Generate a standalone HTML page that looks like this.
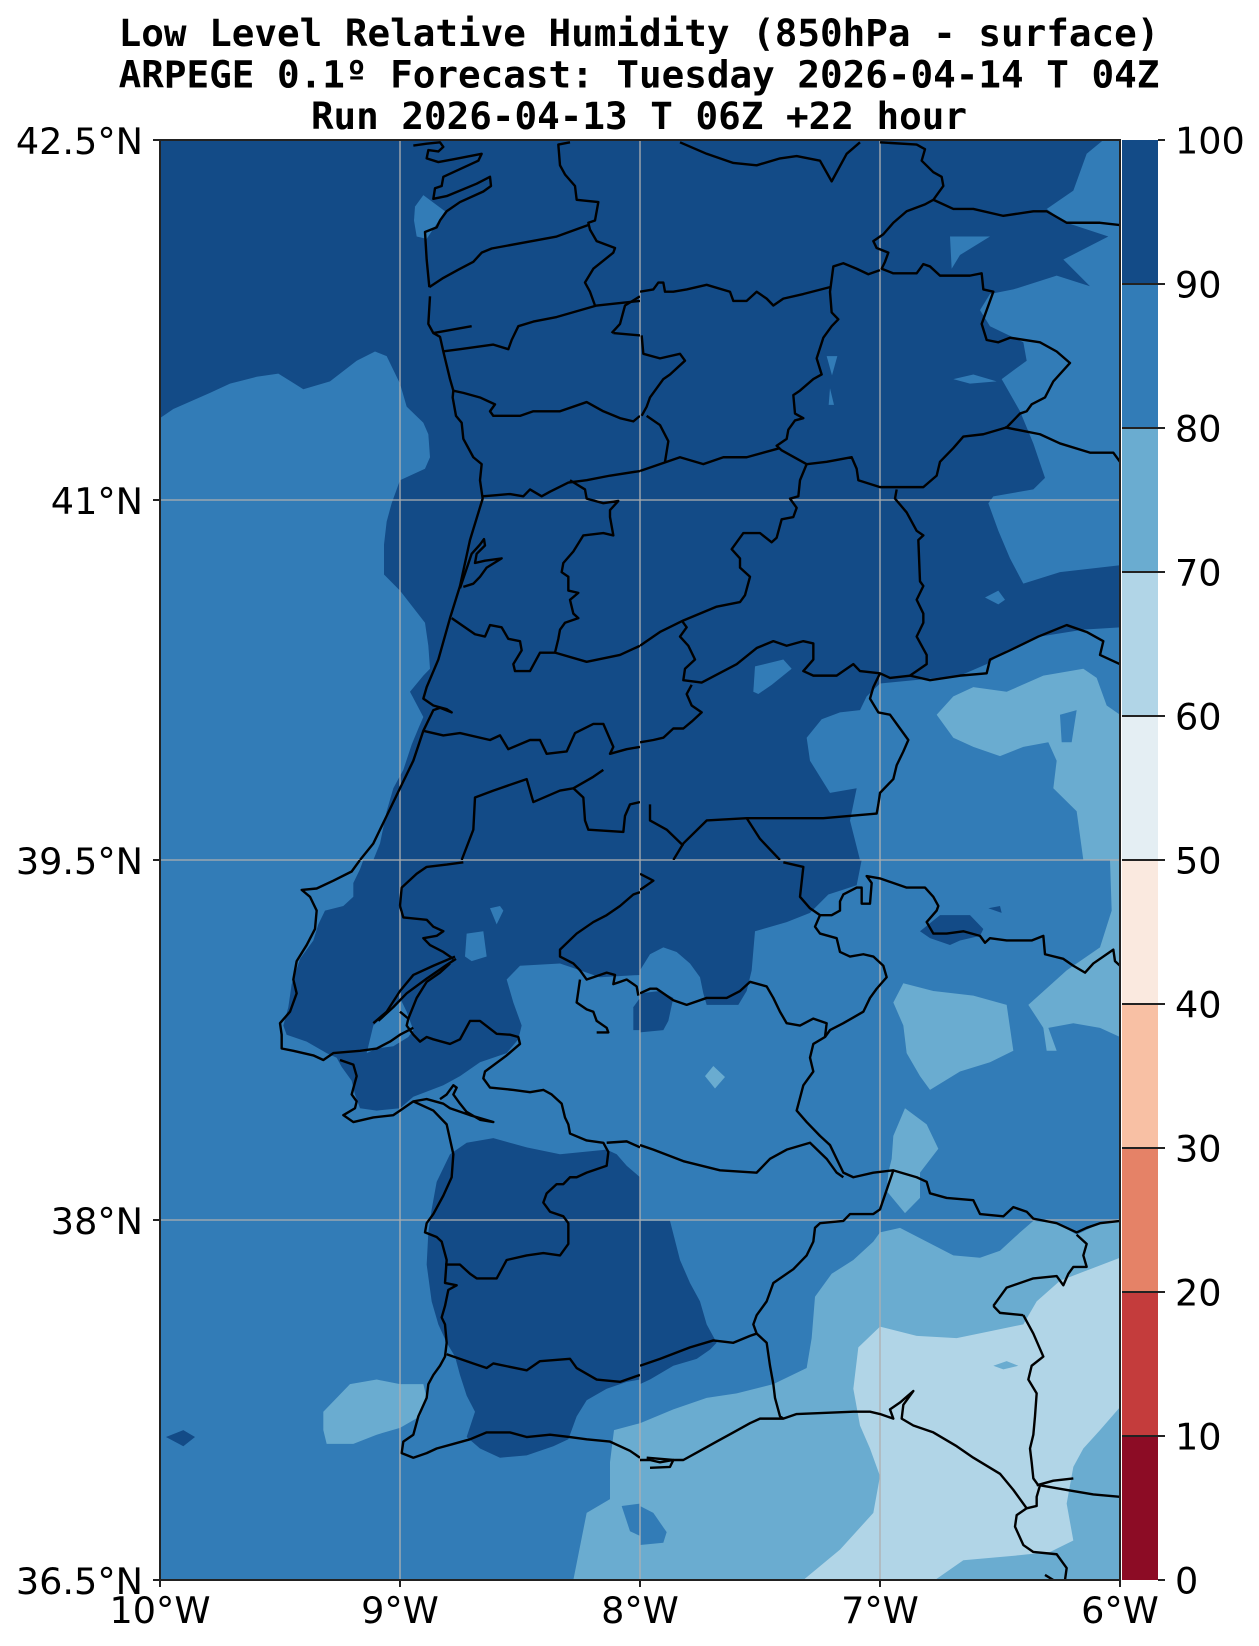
<!DOCTYPE html>
<html><head><meta charset="utf-8"><style>
html,body{margin:0;padding:0;background:#fff;}
svg{display:block;}
.t{font-family:"DejaVu Sans Mono","Liberation Mono",monospace;font-weight:bold;font-size:37.6px;fill:#000;}
.k{font-family:"DejaVu Sans","Liberation Sans",sans-serif;font-size:36.6px;fill:#000;}
.ln polyline{fill:none;stroke:#000;stroke-width:2.4;stroke-linejoin:round;vector-effect:non-scaling-stroke;}
</style></head><body>
<svg width="1259" height="1646" viewBox="0 0 1259 1646" xmlns="http://www.w3.org/2000/svg">
<defs><clipPath id="cq" clipPathUnits="userSpaceOnUse"><rect x="0" y="0" width="1440" height="1566"/></clipPath></defs>
<rect width="1259" height="1646" fill="#fff"/>

<text class="t" x="639" y="46" text-anchor="middle">Low Level Relative Humidity (850hPa - surface)</text>
<text class="t" x="639" y="87.5" text-anchor="middle">ARPEGE 0.1º Forecast: Tuesday 2026-04-14 T 04Z</text>
<text class="t" x="639" y="129" text-anchor="middle">Run 2026-04-13 T 06Z +22 hour</text>

<!-- Q1 fills -->
<g transform="translate(160,140) scale(0.333333,0.459770)" clip-path="url(#cq)">
<rect x="0" y="0" width="1440" height="1566" fill="#134b87"/>
<polygon fill="#327cb7" points="0,605 40,585 150,550 210,530 290,515 355,508 430,542 510,525 590,480 645,460 680,470 720,530 740,580 790,615 805,640 810,690 795,715 720,740 695,790 680,830 672,880 672,945 720,980 795,1050 805,1100 810,1150 790,1165 750,1200 790,1255 775,1280 755,1315 730,1370 700,1410 680,1460 660,1530 640,1566 0,1566"/>
<polygon fill="#327cb7" points="765,145 790,120 855,155 800,215 770,210 762,175"/>
</g>
<!-- Q2 fills -->
<g transform="translate(640,140) scale(0.333333,0.459770)" clip-path="url(#cq)">
<rect x="0" y="0" width="1440" height="1566" fill="#134b87"/>
<polygon fill="#327cb7" points="1440,0 1390,0 1340,30 1300,110 1220,150 1280,180 1405,210 1270,260 1350,318 1250,295 1120,325 1050,335 1020,370 1050,405 1150,440 1160,480 1085,520 1140,590 1180,660 1215,735 1180,760 1060,775 1045,790 1075,850 1110,910 1150,965 1260,940 1440,925"/>
<polygon fill="#327cb7" points="1440,1060 1330,1065 1200,1080 1100,1110 1040,1140 960,1165 820,1175 720,1182 680,1210 660,1240 600,1245 545,1260 500,1300 510,1350 570,1420 650,1410 630,1480 660,1566 1440,1566"/>
<polygon fill="#6aacd0" points="890,1250 940,1210 1000,1190 1100,1200 1210,1165 1330,1150 1370,1170 1400,1230 1440,1250 1440,1566 1330,1566 1310,1460 1240,1410 1250,1350 1225,1310 1150,1320 1080,1340 1000,1320 940,1300"/>
<polygon fill="#327cb7" points="1260,1250 1310,1240 1295,1310 1265,1310"/>
<polygon fill="#327cb7" points="345,1145 430,1130 455,1150 395,1185 355,1205 340,1200"/>
<polygon fill="#327cb7" points="1035,995 1075,980 1095,1000 1075,1010"/>
<polygon fill="#327cb7" points="930,210 1050,210 960,250 935,280"/>
<polygon fill="#327cb7" points="940,520 1000,510 1070,525 990,530"/>
<polygon fill="#327cb7" points="560,470 592,470 576,512"/>
<polygon fill="#327cb7" points="570,540 582,576 566,576"/>
</g>
<!-- Q3 fills -->
<g transform="translate(160,860) scale(0.333333,0.459770)" clip-path="url(#cq)">
<rect x="0" y="0" width="1440" height="1566" fill="#327cb7"/>
<polygon fill="#134b87" points="610,0 1440,0 1440,250 1320,255 1240,235 1200,225 1080,230 1040,260 1060,310 1085,360 1075,390 1040,420 960,440 900,470 850,490 760,515 720,540 650,545 600,540 585,510 575,480 545,450 530,430 500,420 440,395 380,380 370,360 385,320 395,270 420,215 460,175 475,140 495,110 550,100 580,80 580,50 600,20"/>
<polygon fill="#327cb7" points="640,360 700,320 720,300 740,330 760,370 745,385 700,405 650,410 620,420"/>
<polygon fill="#327cb7" points="920,160 970,155 980,210 935,220 915,210"/>
<polygon fill="#327cb7" points="990,105 1020,100 1030,110 1010,140"/>
<polygon fill="#134b87" points="1420,320 1440,300 1440,370 1420,370"/>
<polygon fill="#134b87" points="830,700 870,640 920,615 1000,605 1100,625 1200,640 1340,630 1370,640 1400,665 1440,690 1440,1130 1400,1135 1340,1150 1280,1175 1250,1210 1225,1260 1180,1275 1100,1295 1020,1300 960,1280 920,1255 945,1200 920,1165 900,1120 885,1080 860,1050 835,1010 815,960 800,880 805,810 815,760"/>
<polygon fill="#134b87" points="18,1255 70,1240 105,1255 70,1275"/>
<polygon fill="#6aacd0" points="490,1200 570,1140 650,1130 720,1140 790,1140 800,1170 780,1210 720,1235 650,1250 580,1270 500,1270 490,1240"/>
<polygon fill="#6aacd0" points="1362,1240 1440,1225 1440,1566 1240,1566 1280,1420 1350,1390 1350,1310"/>
<polygon fill="#327cb7" points="1385,1405 1440,1400 1440,1470 1410,1460"/>
</g>
<!-- Q4 fills -->
<g transform="translate(640,860) scale(0.333333,0.459770)" clip-path="url(#cq)">
<rect x="0" y="0" width="1440" height="1566" fill="#327cb7"/>
<polygon fill="#134b87" points="0,0 665,0 650,55 565,75 510,115 440,135 345,155 335,240 320,285 295,315 200,315 190,290 180,255 150,225 110,200 70,190 30,205 0,240"/>
<polygon fill="#134b87" points="0,290 60,285 100,300 85,350 70,370 0,375"/>
<polygon fill="#134b87" points="0,785 90,785 120,870 150,920 180,960 200,1010 230,1050 210,1065 170,1085 100,1100 30,1130 0,1140"/>
<polygon fill="#134b87" points="840,155 900,120 990,120 1030,150 1020,165 960,175 930,185 870,170"/>
<polygon fill="#134b87" points="1045,105 1080,100 1085,115"/>
<polygon fill="#6aacd0" points="760,310 790,268 880,285 1000,295 1100,315 1120,415 1050,440 960,460 870,500 840,470 800,420 790,360"/>
<polygon fill="#6aacd0" points="1165,315 1280,240 1380,190 1415,110 1410,0 1440,0 1440,385 1380,365 1300,355 1225,365 1250,415 1220,415 1210,365"/>
<polygon fill="#6aacd0" points="760,600 795,540 860,575 895,628 840,680 840,735 795,768 740,720 745,680 755,650"/>
<polygon fill="#6aacd0" points="195,470 220,448 255,472 225,497"/>
<polygon fill="#6aacd0" points="0,1225 100,1195 200,1170 290,1160 400,1140 500,1105 515,1040 525,950 575,900 640,870 700,830 720,810 780,800 860,830 940,860 1020,865 1080,850 1140,810 1180,785 1250,790 1310,815 1380,790 1440,780 1440,1566 0,1566"/>
<polygon fill="#b1d5e7" points="640,1150 655,1060 720,1015 830,1035 950,1040 1050,1025 1150,1010 1190,960 1260,915 1350,890 1440,865 1440,1190 1380,1240 1330,1280 1300,1320 1280,1400 1300,1480 1230,1505 1140,1512 970,1523 885,1566 490,1566 600,1500 700,1420 720,1340 690,1280 660,1230"/>
<polygon fill="#6aacd0" points="1060,1100 1100,1090 1135,1100 1090,1108"/>
<polygon fill="#327cb7" points="0,1405 40,1420 80,1462 70,1485 0,1490"/>
</g>

<!-- gridlines -->
<g stroke="#b0b0b0" stroke-width="1.3">
<line x1="400" y1="140" x2="400" y2="1580"/>
<line x1="640" y1="140" x2="640" y2="1580"/>
<line x1="880" y1="140" x2="880" y2="1580"/>
<line x1="160" y1="500" x2="1120" y2="500"/>
<line x1="160" y1="860" x2="1120" y2="860"/>
<line x1="160" y1="1220" x2="1120" y2="1220"/>
</g>

<!-- Q1 lines -->
<g class="ln" transform="translate(160,140) scale(0.333333,0.459770)" clip-path="url(#cq)">
<polyline points="760,12 800,8 840,5 850,15 835,25 805,22 800,40 835,48 880,42 965,30 955,45 880,70 850,80 845,100 825,105 820,128 860,122 950,95 990,80 993,100 970,112 900,135 860,155 840,175 830,190 795,200 800,260 808,320"/>
<polyline points="808,320 850,300 895,282 940,265 965,245 995,236 1040,230 1190,210 1285,185"/>
<polyline points="810,340 805,400 820,420 840,428 850,460 870,520 880,545 878,560 888,600 905,615 910,650 940,690 965,705 960,740 968,780 930,870 900,970 870,1040 835,1130 800,1190 790,1215 820,1230 860,1238 875,1245 840,1235 820,1240 790,1285 760,1350 720,1410 680,1470 640,1530 600,1566"/>
<polyline points="820,420 935,405"/>
<polyline points="848,460 900,455 1000,445 1045,455 1055,435 1075,405 1120,395 1190,385 1310,360 1440,350"/>
<polyline points="1305,360 1290,330 1275,310 1300,280 1360,245 1365,235 1310,220 1290,195 1285,180 1305,175 1315,135 1250,130 1245,100 1215,75 1200,55 1195,10 1230,5"/>
<polyline points="1355,420 1380,400 1395,360 1440,340"/>
<polyline points="1360,420 1440,425"/>
<polyline points="878,545 910,550 960,560 1005,575 990,590 1000,600 1080,600 1120,590 1200,590 1280,570 1330,590 1380,605 1420,612 1440,600"/>
<polyline points="968,775 1000,773 1050,770 1090,775 1110,760 1145,775 1170,765 1225,745 1280,740 1350,730 1440,720"/>
<polyline points="1230,740 1275,760 1280,780 1330,790 1375,785 1350,805 1350,820 1360,860 1330,855 1270,860 1240,895 1210,920 1205,940 1225,950 1225,980 1255,985 1230,1000 1240,1030 1255,1040 1215,1050 1200,1065 1195,1085 1185,1115 1140,1115 1110,1155 1065,1155 1060,1140 1085,1110 1080,1090 1045,1085 1025,1060 990,1055 975,1080 945,1075 875,1040"/>
<polyline points="1185,1115 1280,1135 1380,1120 1440,1100"/>
<polyline points="900,975 935,900 960,880 972,868 975,882 950,900 945,920 975,915 1025,910 980,930 960,950 940,965 910,972"/>
<polyline points="790,1285 850,1295 900,1290 990,1305 1020,1295 1045,1325 1110,1305 1140,1305 1160,1335 1220,1330 1245,1290 1300,1270 1330,1270 1360,1320 1350,1335 1400,1325 1440,1320"/>
<polyline points="905,1566 940,1500 945,1430 1000,1415 1100,1390 1120,1440 1200,1415 1240,1410 1300,1385 1330,1370"/>
<polyline points="1240,1410 1270,1430 1275,1480 1285,1500 1390,1505 1395,1470 1410,1445 1440,1440"/>
</g>
<!-- Q2 lines -->
<g class="ln" transform="translate(640,140) scale(0.333333,0.459770)" clip-path="url(#cq)">
<polyline points="120,5 200,30 280,50 350,55 420,40 470,35 540,45 575,90 620,30 660,5"/>
<polyline points="720,5 830,10 855,20 845,45 880,70 905,80 910,100 880,130 855,140 800,155 760,180 730,205 700,220 710,235 745,245 735,265 725,280 760,290 830,290 850,270 870,275 900,295 990,295 1025,290 1030,325 1060,330 1040,370 1025,400 1040,435 1075,440 1110,430 1200,440 1250,460 1290,485 1240,525 1215,560 1175,575 1160,590 1140,595 1100,625 1030,640 970,645 940,670 900,700 890,730 850,755 720,755 655,740 650,715 635,690 560,700 500,705 425,675 410,665 440,650 445,630 465,610 490,605 465,595 460,555 480,545 520,520 545,510 530,475 550,430 575,405 595,390 575,375 570,330 580,275 610,268 650,280 685,292 720,283"/>
<polyline points="880,130 940,150 1000,150 1090,165 1180,155 1220,155 1280,180 1380,180 1440,185"/>
<polyline points="0,330 40,325 55,310 70,310 75,330 100,330 140,325 200,315 270,330 280,350 320,350 350,330 380,345 400,360 430,345 490,335 570,320"/>
<polyline points="5,425 10,465 60,475 120,465 135,480 90,510 70,520 45,545 30,560 20,580 5,600"/>
<polyline points="20,600 60,620 85,655 75,700"/>
<polyline points="0,720 60,705 120,690 190,705 250,690 320,690 420,670"/>
<polyline points="500,705 480,740 475,775 450,780 470,800 460,820 425,825 410,865 395,875 360,855 310,855 275,890 300,910 300,930 330,950 315,990 300,1005 230,1015 130,1045 60,1070 0,1100"/>
<polyline points="770,760 765,780 800,810 830,850 850,860 835,870 840,960 850,970 830,1000 850,1030 850,1050 830,1080 860,1120 860,1140 810,1165 870,1175 960,1165 1040,1160 1050,1130 1110,1110 1195,1080 1280,1055 1340,1070 1390,1090 1380,1120 1440,1140"/>
<polyline points="1095,625 1200,640 1260,660 1350,680 1420,680 1440,700"/>
<polyline points="125,1045 140,1060 120,1080 145,1100 165,1130 135,1150 130,1175 185,1180 290,1140 350,1105 400,1090 440,1100 490,1090 520,1095 520,1130 490,1155 520,1165 590,1165 640,1140 660,1155 720,1160 750,1170 810,1165"/>
<polyline points="155,1185 140,1205 155,1230 185,1245 155,1265 130,1280 100,1280 70,1300 40,1305 0,1310"/>
<polyline points="720,1160 700,1190 690,1215 715,1245 750,1250 780,1280 805,1305 790,1330 770,1360 760,1390 720,1420 715,1445 710,1465 550,1475 320,1475 200,1480 130,1530 100,1566"/>
<polyline points="30,1445 30,1480 80,1500 130,1535"/>
<polyline points="320,1475 360,1520 420,1566"/>
</g>
<!-- Q3 lines -->
<g class="ln" transform="translate(160,860) scale(0.333333,0.459770)" clip-path="url(#cq)">
<polyline points="600,0 575,25 520,45 470,62 425,65 450,80 470,110 465,150 440,185 410,220 400,260 410,290 390,330 360,355 365,380 365,410 400,415 460,425 490,435 520,420 600,415 650,410 690,395 720,380 760,365"/>
<polyline points="640,355 680,330 720,285 760,250 820,230 885,210"/>
<polyline points="655,350 700,320 740,290 800,258 860,228 888,215"/>
<polyline points="745,345 770,300 800,265 840,245 870,225"/>
<polyline points="540,435 580,445 590,470 575,510 590,525 585,540 550,555 580,570 640,560 700,555 720,545 760,525 800,520 850,530 870,540 930,555 1000,570 960,565 920,548 900,530 880,510 890,495 880,490 860,510 840,520"/>
<polyline points="760,525 820,545 860,575 880,640 875,690 850,730 820,770 800,790 795,810 830,820 845,830 860,870 855,920 890,925 865,935 855,970 845,995 855,1010 860,1050 855,1080 840,1100 820,1120 805,1140 800,1170 775,1210 760,1250 730,1265 725,1290 760,1300 800,1290 830,1280 880,1270 930,1260 980,1245 1050,1245 1100,1255 1170,1250 1230,1255 1280,1260 1350,1265 1410,1285 1440,1300"/>
<polyline points="860,1075 940,1095 980,1105 1000,1095 1100,1110 1140,1090 1230,1085 1250,1105 1310,1130 1380,1135 1440,1120"/>
<polyline points="855,880 900,880 930,900 950,910 1010,910 1040,870 1100,860 1150,855 1200,860 1225,835 1225,790 1210,775 1170,765 1150,745 1160,725 1190,705 1210,705 1230,690 1250,690 1280,680 1340,665 1345,635 1330,615 1280,610 1230,595 1225,575 1215,560 1205,530 1175,510 1150,500 1110,505 1060,500 990,495 970,475 975,460 1040,425 1080,400 1075,385 1050,380 1010,378 960,350 930,350 900,390 870,400 820,390 800,385 780,395 760,380 740,360 745,345 720,330"/>
<polyline points="1340,615 1400,612 1440,625"/>
<polyline points="720,100 730,125 800,130 820,145 850,155 830,165 790,170 810,185 850,200 880,215"/>
<polyline points="720,100 725,60 770,30 800,15 860,10 910,5"/>
<polyline points="1440,70 1420,75 1380,100 1340,120 1300,135 1250,160 1200,195 1200,210 1240,225 1260,240 1280,260 1300,255 1340,245 1365,250 1360,270 1380,265 1400,260 1430,275 1435,295"/>
<polyline points="1260,260 1255,285 1250,310 1280,325 1300,330 1310,350 1340,365 1345,375 1310,375"/>
</g>
<!-- Q4 lines -->
<g class="ln" transform="translate(640,860) scale(0.333333,0.459770)" clip-path="url(#cq)">
<polyline points="0,30 40,45 10,60 0,65"/>
<polyline points="430,5 490,15 480,80 510,105 540,120 575,120 600,110 600,90 610,75 650,60 665,60 665,95 690,95 695,50 680,35 720,40 800,60 855,60 880,80 895,100 890,110 860,135 880,160 920,160 970,155 1020,165 1035,180 1050,170 1100,175 1175,175 1210,165 1215,205 1270,215 1300,230 1335,245 1360,225 1420,195 1425,220 1440,230"/>
<polyline points="540,120 525,145 540,160 590,170 600,200 630,210 670,205 700,210 730,230 740,255 710,280 690,300 670,330 610,355 570,370 555,385 520,400 510,430 520,460 490,490 470,545 500,570 540,600 570,620 590,650 610,680 640,690 700,680 760,675 830,690 860,700 870,725 920,735 1000,740 1020,770 1090,775 1120,755 1160,765 1180,780 1250,790 1310,810 1340,800 1380,790 1440,785"/>
<polyline points="0,290 30,280 50,280 100,305 140,315 200,300 260,300 300,285 330,265 380,275 400,300 420,330 440,355 480,360 520,345 560,355 555,385"/>
<polyline points="0,620 40,630 130,655 240,675 350,680 390,650 440,630 510,615 560,650 590,680 610,690"/>
<polyline points="760,675 720,760 700,770 630,770 610,785 540,790 525,800 520,830 500,860 460,890 400,920 380,960 350,990 340,1010 350,1030 380,1050 390,1100 400,1140 405,1170 420,1210 430,1215"/>
<polyline points="0,1305 30,1305 60,1310 100,1305 130,1305 180,1285 230,1265 280,1245 330,1225 360,1215 400,1215 430,1215 470,1205 640,1200 690,1200 720,1205 760,1215 750,1195 780,1180 820,1155 790,1185 785,1215 820,1230 880,1245 950,1275 1000,1300 1080,1335 1120,1370 1160,1410 1190,1405 1190,1385 1200,1360 1280,1370 1360,1380 1440,1385"/>
<polyline points="20,1300 100,1305 90,1320 30,1322"/>
<polyline points="1160,1410 1130,1425 1125,1450 1150,1490 1180,1505 1250,1510 1280,1540 1275,1566"/>
<polyline points="1190,1360 1240,1350 1300,1345"/>
<polyline points="1060,970 1100,930 1180,910 1250,905 1270,925 1285,900 1300,885 1340,885 1330,860 1340,835 1310,815"/>
<polyline points="1150,990 1180,1030 1210,1080 1175,1100 1165,1130 1190,1160 1185,1210 1180,1250 1170,1280 1175,1310 1180,1345 1195,1360"/>
<polyline points="1060,970 1080,985 1150,990"/>
<polyline points="0,1100 60,1085 150,1060 220,1045 280,1050 330,1035 350,1030"/>
<polyline points="1215,1555 1240,1566"/>
</g>

<!-- frame -->
<rect x="160" y="140" width="960" height="1440" fill="none" stroke="#222" stroke-width="2"/>

<!-- ticks -->
<g stroke="#222" stroke-width="2">
<line x1="153" y1="140" x2="160" y2="140"/>
<line x1="153" y1="500" x2="160" y2="500"/>
<line x1="153" y1="860" x2="160" y2="860"/>
<line x1="153" y1="1220" x2="160" y2="1220"/>
<line x1="153" y1="1580" x2="160" y2="1580"/>
<line x1="160" y1="1580" x2="160" y2="1587"/>
<line x1="400" y1="1580" x2="400" y2="1587"/>
<line x1="640" y1="1580" x2="640" y2="1587"/>
<line x1="880" y1="1580" x2="880" y2="1587"/>
<line x1="1120" y1="1580" x2="1120" y2="1587"/>
</g>
<g class="k" text-anchor="end">
<text x="143" y="154">42.5°N</text>
<text x="143" y="514">41°N</text>
<text x="143" y="874">39.5°N</text>
<text x="143" y="1234">38°N</text>
<text x="143" y="1594">36.5°N</text>
</g>
<g class="k" text-anchor="middle">
<text x="160" y="1623">10°W</text>
<text x="400" y="1623">9°W</text>
<text x="640" y="1623">8°W</text>
<text x="880" y="1623">7°W</text>
<text x="1120" y="1623">6°W</text>
</g>

<!-- colorbar -->
<rect x="1122" y="140" width="36" height="144" fill="#134b87"/>
<rect x="1122" y="284" width="36" height="144" fill="#327cb7"/>
<rect x="1122" y="428" width="36" height="144" fill="#6aacd0"/>
<rect x="1122" y="572" width="36" height="144" fill="#b1d5e7"/>
<rect x="1122" y="716" width="36" height="144" fill="#e4eef3"/>
<rect x="1122" y="860" width="36" height="144" fill="#fae9df"/>
<rect x="1122" y="1004" width="36" height="144" fill="#f8c0a4"/>
<rect x="1122" y="1148" width="36" height="144" fill="#e58267"/>
<rect x="1122" y="1292" width="36" height="144" fill="#c43c3c"/>
<rect x="1122" y="1436" width="36" height="144" fill="#8c0c25"/>
<g stroke="#222" stroke-width="2">
<line x1="1122" y1="284" x2="1165" y2="284"/>
<line x1="1122" y1="428" x2="1165" y2="428"/>
<line x1="1122" y1="572" x2="1165" y2="572"/>
<line x1="1122" y1="716" x2="1165" y2="716"/>
<line x1="1122" y1="860" x2="1165" y2="860"/>
<line x1="1122" y1="1004" x2="1165" y2="1004"/>
<line x1="1122" y1="1148" x2="1165" y2="1148"/>
<line x1="1122" y1="1292" x2="1165" y2="1292"/>
<line x1="1122" y1="1436" x2="1165" y2="1436"/>
<line x1="1158" y1="140" x2="1165" y2="140"/>
<line x1="1158" y1="1580" x2="1165" y2="1580"/>
</g>
<g class="k">
<text x="1175" y="153.5">100</text>
<text x="1175" y="297.5">90</text>
<text x="1175" y="441.5">80</text>
<text x="1175" y="585.5">70</text>
<text x="1175" y="729.5">60</text>
<text x="1175" y="873.5">50</text>
<text x="1175" y="1017.5">40</text>
<text x="1175" y="1161.5">30</text>
<text x="1175" y="1305.5">20</text>
<text x="1175" y="1449.5">10</text>
<text x="1175" y="1593.5">0</text>
</g>
</svg>
</body></html>
